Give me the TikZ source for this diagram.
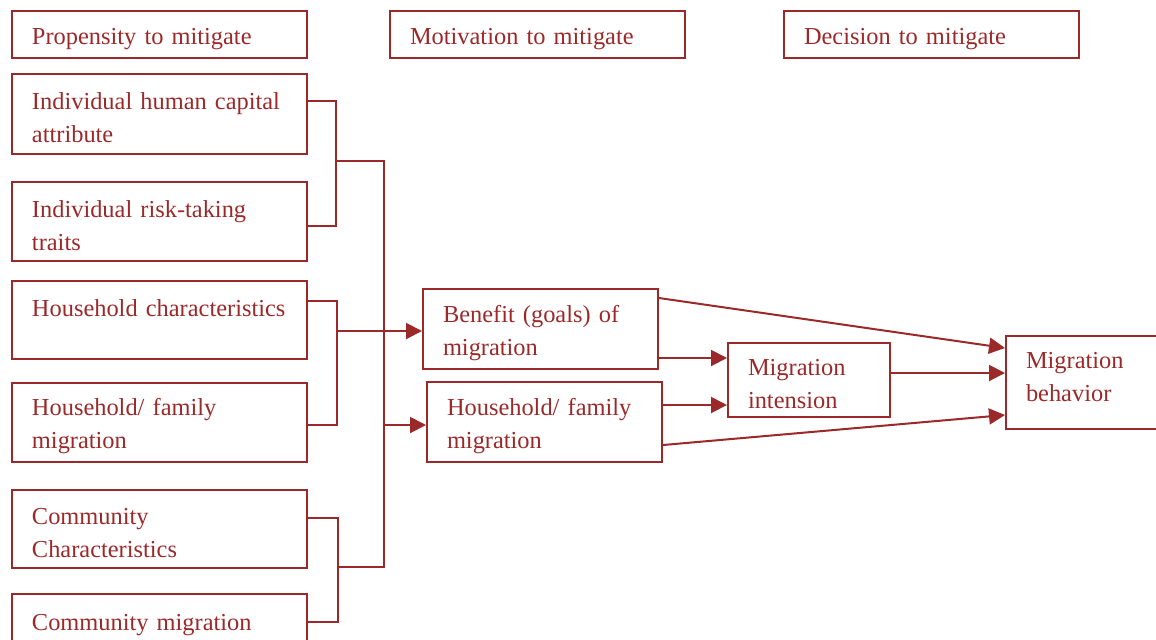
\documentclass[tikz,border=0pt]{standalone}
\usepackage{fontspec}
\setmainfont{Liberation Serif}
\usetikzlibrary{arrows.meta,calc}
\definecolor{mred}{RGB}{155,41,41}
\tikzset{
  factor/.style={draw=mred, line width=1pt, text=mred, anchor=north west, align=left,
    inner xsep=10pt, inner ysep=0pt, font=\fontsize{12.2}{16.5}\selectfont,
    execute at begin node={\rule{0pt}{12.5pt}}},
  link/.style={draw=mred, line width=1pt},
  arr/.style={link, -{Triangle[length=8pt,width=8pt]}}
}
\begin{document}
\begin{tikzpicture}[x=0.5pt,y=-0.5pt]
\useasboundingbox (0,0) rectangle (1156,639);
\clip (0,0) rectangle (1156,639);
% headers
\node[factor, text width=127.5pt, minimum height=23.5pt] (h1) at (11,10) {Propensity to mitigate};
\node[factor, text width=127.5pt, minimum height=23.5pt] (h2) at (389,10) {Motivation to mitigate};
\node[factor, text width=127.5pt, minimum height=23.5pt] (h3) at (783,10) {Decision to mitigate};
% propensity
\node[factor, text width=127.5pt, minimum height=40pt] (a1) at (11,73) {Individual human capital\\attribute};
\node[factor, text width=127.5pt, minimum height=39.5pt] (a2) at (11,181) {Individual risk-taking\\traits};
\node[factor, text width=127.5pt, minimum height=39pt] (a3) at (11,280) {\mbox{Household characteristics}\\\mbox{}};
\node[factor, text width=127.5pt, minimum height=39.5pt] (a4) at (11,382) {Household/ family\\migration};
\node[factor, text width=127.5pt, minimum height=39pt] (a5) at (11,489) {Community\\Characteristics};
\node[factor, text width=127.5pt, minimum height=40pt] (a6) at (11,593) {Community migration\\\mbox{}};
% motivation
\node[factor, text width=97.5pt, minimum height=40pt] (m1) at (422,288) {Benefit (goals) of\\migration};
\node[factor, text width=97.5pt, minimum height=40pt] (m2) at (426,381) {Household/ family\\migration};
% decision
\node[factor, text width=61pt, minimum height=37pt] (mi) at (727,342) {Migration\\intension};
\node[factor, text width=65pt, minimum height=46.5pt] (mb) at (1005,335) {Migration\\behavior\\[-6pt]\mbox{}};
% brackets
\coordinate (k1) at (336,101);
\coordinate (k2) at (336,226);
\draw[link] (a1.east |- k1) -- (k1) -- (k2) -- (a2.east |- k2);
\coordinate (k3) at (337,301);
\coordinate (k4) at (337,425);
\draw[link] (a3.east |- k3) -- (k3) -- (k4) -- (a4.east |- k4);
\coordinate (k5) at (338,518);
\coordinate (k6) at (338,622);
\draw[link] (a5.east |- k5) -- (k5) -- (k6) -- (a6.east |- k6);
\coordinate (s1) at (384,161);
\coordinate (s2) at (384,567);
\draw[link] (k1 |- s1) -- (s1) -- (s2) -- (k5 |- s2);
\coordinate (t1) at (337,331);
\coordinate (t2) at (384,425);
\draw[arr] (t1) -- (m1.west |- t1);
\draw[arr] (t2) -- (m2.west |- t2);
% to decision
\draw[arr] ($(m1.north east)+(0,10)$) -- ($(mb.north west)+(0,13)$);
\coordinate (r1) at ($(m1.north east)+(-2,70)$);
\draw[arr] (r1) -- (mi.west |- r1);
\coordinate (r2) at ($(m2.north east)+(0,24)$);
\draw[arr] (r2) -- (mi.west |- r2);
\coordinate (r3) at ($(mi.north east)+(0,31)$);
\draw[arr] (r3) -- (mb.west |- r3);
\draw[arr] ($(m2.north east)+(0,64)$) -- ($(mb.north west)+(0,80)$);
\end{tikzpicture}
\end{document}
